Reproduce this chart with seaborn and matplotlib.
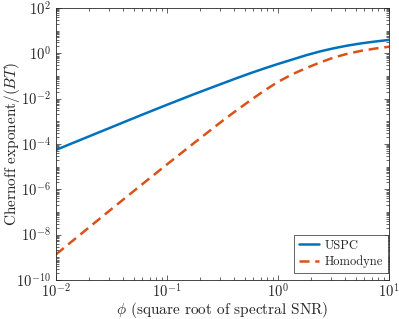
import numpy as np
import pandas as pd
import matplotlib
matplotlib.use("Agg")
import matplotlib.pyplot as plt
import matplotlib.ticker as mticker
import seaborn as sns

phi = [0.01, 0.01778, 0.03162, 0.05623, 0.1, 0.1778, 0.3162, 0.4217, 0.5623,
       0.7499, 1.0, 1.334, 1.778, 2.371, 3.162, 4.217, 5.623, 7.499, 10.0]
uspc = [5.50e-5, 1.74e-4, 5.50e-4, 1.74e-3, 5.37e-3, 1.62e-2, 4.68e-2, 7.94e-2,
        0.132, 0.214, 0.339, 0.525, 0.813, 1.20, 1.66, 2.19, 2.75, 3.31, 3.89]
homodyne = [1.35e-9, 1.35e-8, 1.35e-7, 1.32e-6, 1.26e-5, 1.17e-4, 1.05e-3, 3.02e-3,
            8.32e-3, 2.24e-2, 5.50e-2, 0.117, 0.219, 0.389, 0.646, 0.955, 1.29, 1.62, 1.95]
series_names = ["USPC", "Homodyne"]

df = pd.DataFrame({
    "phi": phi * 2,
    "value": uspc + homodyne,
    "series": [series_names[0]] * len(phi) + [series_names[1]] * len(phi),
})

sns.set_style("ticks")
plt.rcParams["font.family"] = ["serif"]
plt.rcParams["font.serif"] = ["cmr10", "DejaVu Serif"]
plt.rcParams["mathtext.fontset"] = "cm"
plt.rcParams["axes.formatter.use_mathtext"] = True
plt.rcParams["axes.unicode_minus"] = False

dark = (0.15, 0.15, 0.15)
fig = plt.figure(figsize=(3.99, 3.19), dpi=100)
ax = fig.add_axes([0.1404, 0.1223, 0.975 - 0.1404, 0.975 - 0.1223])

sns.lineplot(data=df, x="phi", y="value", hue="series", style="series",
             palette={"USPC": "#0072BD", "Homodyne": "#D95319"},
             dashes={"USPC": "", "Homodyne": (4, 2.3)},
             linewidth=1.8, ax=ax, legend=True)

ax.set_xscale("log")
ax.set_yscale("log")
ax.set_xlim(1e-2, 1e1)
ax.set_ylim(1e-10, 1e2)

ax.yaxis.set_major_locator(mticker.FixedLocator([10.0 ** k for k in range(-10, 3, 2)]))
ax.yaxis.set_minor_locator(mticker.LogLocator(base=10, subs=np.arange(1, 10), numticks=100))
ax.xaxis.set_major_locator(mticker.LogLocator(base=10, numticks=10))
ax.xaxis.set_minor_locator(mticker.LogLocator(base=10, subs=np.arange(2, 10), numticks=100))
ax.yaxis.set_minor_formatter(mticker.NullFormatter())
ax.xaxis.set_minor_formatter(mticker.NullFormatter())

ax.tick_params(which="both", direction="in", top=True, right=True, color=dark,
               labelcolor=dark, labelsize=10.5, width=0.5)
ax.tick_params(which="major", length=3.5)
ax.tick_params(which="minor", length=2)
ax.tick_params(axis="x", which="both", pad=2)
for s in ax.spines.values():
    s.set_color(dark)
    s.set_linewidth(0.6)

ax.set_xlabel(r"$\phi$ (square root of spectral SNR)", fontsize=11, color=dark, labelpad=-0.7)
ax.set_ylabel(r"Chernoff exponent/$(BT)$", fontsize=11, color=dark, labelpad=-4)

leg = ax.legend(loc="lower right", bbox_to_anchor=(0.998, 0.025), fontsize=9,
                frameon=True, fancybox=False, edgecolor=dark, framealpha=1,
                handlelength=1.6, handletextpad=0.5, borderpad=0.4,
                labelspacing=0.3, borderaxespad=0)
leg.get_frame().set_linewidth(0.5)

fig.savefig("out.png", dpi=100)
